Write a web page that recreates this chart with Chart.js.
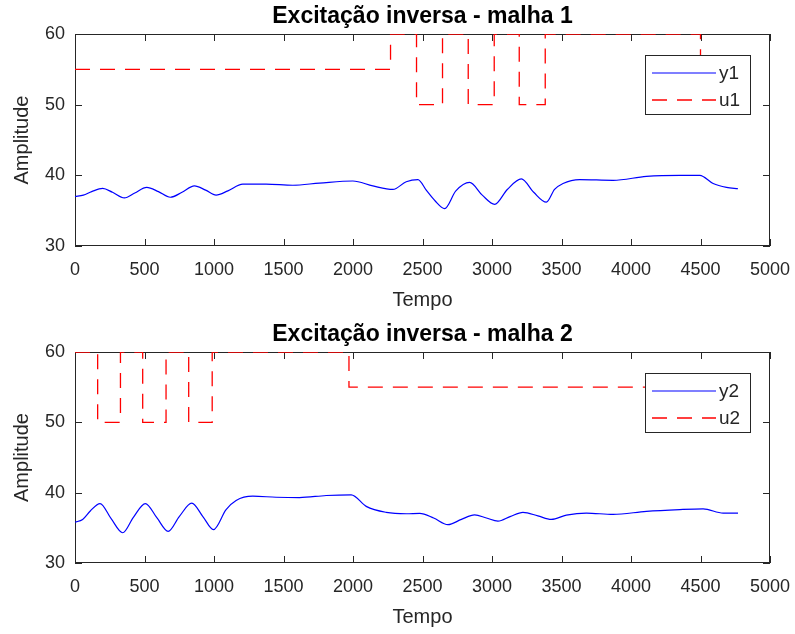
<!DOCTYPE html>
<html>
<head>
<meta charset="utf-8">
<script src="https://cdn.jsdelivr.net/npm/chart.js@4.4.1/dist/chart.umd.min.js"></script>
<style>
  body { margin: 0; background: #fff; }
  .wrap { position: absolute; left: 0; width: 795px; height: 317px; }
</style>
</head>
<body>
<div class="wrap" style="top:0"><canvas id="chart1" width="795" height="317"></canvas></div>
<div class="wrap" style="top:317px"><canvas id="chart2" width="795" height="317"></canvas></div>
<script>
// malha 1
const t1 = [0, 60, 120, 199, 270, 355, 430, 516, 600, 686, 770, 859, 940, 1015, 1100, 1207, 1375, 1567, 1759, 1999,
  2143, 2287, 2383, 2467, 2527, 2590, 2659, 2740, 2839, 2930, 3019, 3110, 3211, 3300, 3391, 3450, 3511, 3631, 3871,
  4111, 4351, 4495, 4591, 4687, 4770];
const y1 = [37.0, 37.2, 37.7, 38.15, 37.6, 36.8, 37.5, 38.3, 37.7, 36.9, 37.6, 38.5, 37.9, 37.2, 37.8, 38.75, 38.75, 38.6, 38.9, 39.2,
  38.5, 38.0, 39.1, 39.4, 37.9, 36.4, 35.3, 37.8, 39.0, 37.2, 35.9, 38.0, 39.5, 37.6, 36.2, 38.0, 38.85, 39.4, 39.3,
  39.85, 40.0, 40.0, 38.85, 38.3, 38.1];
const tu1 = [0, 2270, 2457, 2644, 2829, 3016, 3196, 3383, 4500, 4770];
const u1 = [55, 60, 50, 60, 50, 60, 50, 60, 55, 55];

// malha 2
const t2 = [0, 55, 110, 180, 260, 343, 420, 506, 590, 670, 750, 840, 920, 996, 1087, 1159, 1279, 1447, 1615, 1807,
  1987, 2095, 2239, 2383, 2480, 2580, 2683, 2780, 2875, 2960, 3043, 3130, 3223, 3330, 3427, 3535, 3679, 3871,
  4111, 4351, 4519, 4663, 4770];
const y2 = [35.8, 36.2, 37.4, 38.45, 36.3, 34.3, 36.5, 38.45, 36.4, 34.5, 36.6, 38.5, 36.6, 34.75, 37.6, 38.9, 39.5, 39.35, 39.3, 39.6,
  39.7, 38.05, 37.2, 37.0, 37.05, 36.4, 35.45, 36.2, 36.85, 36.4, 35.95, 36.6, 37.2, 36.7, 36.2, 36.8, 37.1, 36.9,
  37.35, 37.6, 37.7, 37.1, 37.1];
const tu2 = [0, 163, 327, 487, 655, 818, 987, 1971, 4770];
const u2 = [60, 50, 60, 50, 60, 50, 60, 55, 55];

const xTicks = [0, 500, 1000, 1500, 2000, 2500, 3000, 3500, 4000, 4500, 5000];
const yTicks = [30, 40, 50, 60];

const FONT = '"Liberation Sans", Arial, Helvetica, sans-serif';
const AXIS = '#262626';

function pts(t, v) {
    return t.map(function(ti, i) { return { x: ti, y: v[i] }; });
}

// axes box with inward ticks on all four sides, like MATLAB
const frameTicks = {
    id: 'frameTicks',
    beforeDatasetsDraw(chart) {
        const ctx = chart.ctx;
        const a = chart.chartArea;
        const xs = chart.scales.x, ys = chart.scales.y;
        ctx.save();
        ctx.strokeStyle = AXIS;
        ctx.lineWidth = 1;
        ctx.beginPath();
        xs.ticks.forEach(function(t) {
            const px = Math.round(xs.getPixelForValue(t.value)) + 0.5;
            ctx.moveTo(px, a.bottom); ctx.lineTo(px, a.bottom - 7);
            ctx.moveTo(px, a.top); ctx.lineTo(px, a.top + 7);
        });
        ys.ticks.forEach(function(t) {
            const py = Math.round(ys.getPixelForValue(t.value)) + 0.5;
            ctx.moveTo(a.left, py); ctx.lineTo(a.left + 7, py);
            ctx.moveTo(a.right, py); ctx.lineTo(a.right - 7, py);
        });
        ctx.stroke();
        ctx.strokeRect(a.left + 0.5, a.top + 0.5, a.right - a.left - 1, a.bottom - a.top - 1);
        ctx.restore();
    },
    afterDatasetsDraw(chart, args, opts) {
        const ctx = chart.ctx;
        const a = chart.chartArea;
        // legend box
        const w = 105, h = 59;
        const lx = a.right - 20 - w, ly = a.top + 21;
        ctx.save();
        ctx.fillStyle = '#fff';
        ctx.fillRect(lx, ly, w, h);
        ctx.strokeStyle = AXIS;
        ctx.lineWidth = 1;
        ctx.strokeRect(lx + 0.5, ly + 0.5, w, h);
        chart.data.datasets.forEach(function(ds, i) {
            const ry = ly + 18 + i * 27;
            ctx.beginPath();
            ctx.strokeStyle = ds.borderColor;
            ctx.lineWidth = ds.borderWidth;
            ctx.setLineDash(ds.borderDash || []);
            ctx.moveTo(lx + 7, ry);
            ctx.lineTo(lx + 71, ry);
            ctx.stroke();
            ctx.setLineDash([]);
            ctx.fillStyle = AXIS;
            ctx.font = '19px ' + FONT;
            ctx.textBaseline = 'middle';
            ctx.textAlign = 'left';
            ctx.fillText(ds.label, lx + 74, ry + 1);
        });
        // title centred over the axes
        ctx.fillStyle = '#000';
        ctx.font = 'bold 23px ' + FONT;
        ctx.textAlign = 'center';
        ctx.textBaseline = 'middle';
        ctx.fillText(opts.text, (a.left + a.right) / 2, a.top - 17);
        ctx.restore();
    }
};

function makeChart(id, title, tY, vY, labY, tU, vU, labU, padTop) {
    const ctx = document.getElementById(id).getContext('2d');
    return new Chart(ctx, {
        type: 'line',
        data: {
            datasets: [{
                label: labY,
                data: pts(tY, vY),
                borderColor: '#0000ff',
                borderWidth: 1.2,
                pointRadius: 0,
                cubicInterpolationMode: 'monotone'
            },
            {
                label: labU,
                data: pts(tU, vU),
                borderColor: '#ff0000',
                borderWidth: 1.3,
                borderDash: [15, 10],
                pointRadius: 0,
                stepped: 'before'
            }]
        },
        options: {
            responsive: false,
            animation: false,
            devicePixelRatio: 1,
            layout: { padding: { left: 0, right: 25, top: padTop, bottom: 0 } },
            scales: {
                x: {
                    type: 'linear',
                    min: 0,
                    max: 5000,
                    afterBuildTicks: function(s) { s.ticks = xTicks.map(function(v) { return { value: v }; }); },
                    afterFit: function(s) { s.height = 71; s.paddingRight = 0; s.paddingLeft = 0; },
                    grid: { display: false, drawTicks: false },
                    border: { display: false },
                    ticks: {
                        color: AXIS, padding: 13, maxRotation: 0, font: { family: FONT, size: 18 },
                        callback: function(v) { return String(v); }
                    },
                    title: { display: true, text: 'Tempo', color: AXIS, padding: { top: 0, bottom: 5 }, font: { family: FONT, size: 20 } }
                },
                y: {
                    min: 30,
                    max: 60,
                    afterBuildTicks: function(s) { s.ticks = yTicks.map(function(v) { return { value: v }; }); },
                    afterFit: function(s) { s.width = 75; },
                    grid: { display: false, drawTicks: false },
                    border: { display: false },
                    ticks: {
                        color: AXIS, padding: 10, font: { family: FONT, size: 18 },
                        callback: function(v) { return String(v); }
                    },
                    title: { display: true, text: 'Amplitude', color: AXIS, padding: { top: 10, bottom: 0 }, font: { family: FONT, size: 20 } }
                }
            },
            plugins: {
                legend: { display: false },
                tooltip: { enabled: false },
                frameTicks: { text: title }
            }
        },
        plugins: [frameTicks]
    });
}

makeChart('chart1', 'Excitação inversa - malha 1', t1, y1, 'y1', tu1, u1, 'u1', 34);
makeChart('chart2', 'Excitação inversa - malha 2', t2, y2, 'y2', tu2, u2, 'u2', 35);
</script>
</body>
</html>
